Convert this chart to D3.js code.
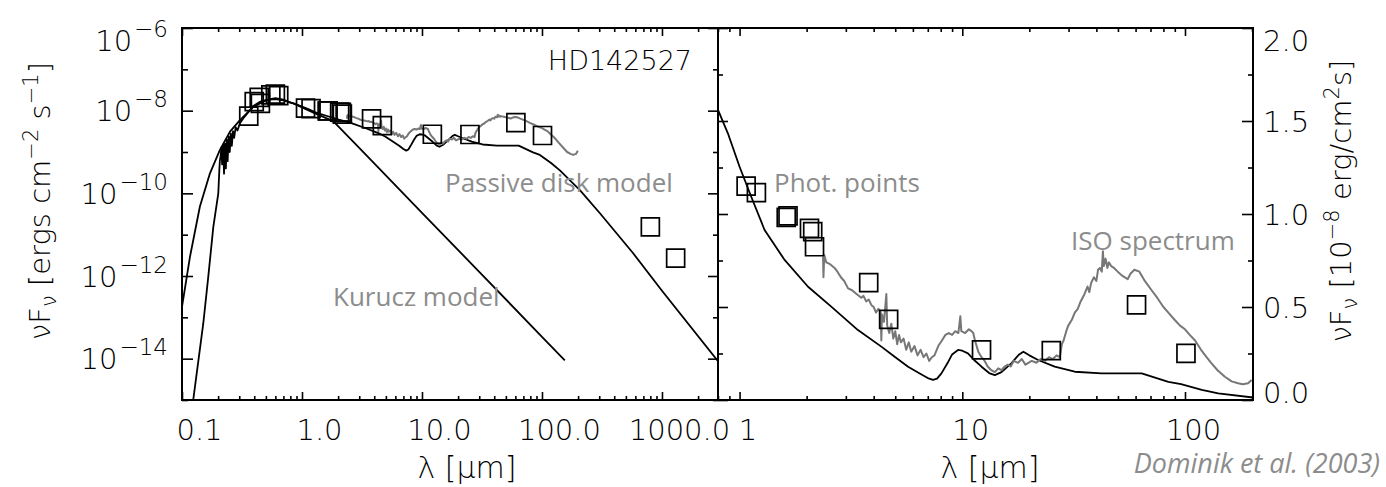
<!DOCTYPE html>
<html><head><meta charset="utf-8">
<script src="https://cdn.jsdelivr.net/npm/d3@7"></script>
<style>body{margin:0;background:#fff}svg{display:block}</style>
</head><body>
<svg id="c" width="1386" height="487"></svg>
<script>
// ---------------- DATA (fluxes in erg cm^-2 s^-1, wavelengths in micron) ----------------
const kuruczLambda = [0.124,0.1505,0.1655,0.1824,0.2007,0.205,0.207,0.210,0.213,0.216,0.220,0.224,0.228,0.232,0.236,0.240,0.245,0.250,0.255,0.260,0.266,0.272,0.280,0.290,0.304,0.33,0.36,0.393,0.45,0.51,0.6,0.7,0.85,1.0,1.3,1.82,2.5,4,10,30,100,155];
const kuruczFlux = [1e-15,7.2e-14,9.5e-13,1.55e-11,1.0e-10,4e-10,6.3e-10,8e-10,1.3e-9,5e-10,1.5e-9,3.0e-10,1.6e-9,4.0e-10,2.0e-9,6e-10,2.4e-9,1.0e-9,2.8e-9,1.4e-9,3.2e-9,2.2e-9,4.0e-9,3.3e-9,5.0e-9,7.0e-9,9.5e-9,1.3e-8,1.66e-8,1.82e-8,1.9e-8,1.78e-8,1.5e-8,1.2e-8,8.5e-9,5.6e-9,2.17e-9,5.3e-10,3.39e-11,1.26e-12,3.39e-14,9.1e-15];

const diskLambda = [0.1,0.1166,0.141,0.171,0.207,0.251,0.304,0.393,0.51,0.6,0.7,0.8,0.886,1.0,1.128,1.295,1.593,2.03,2.58,3.40,4.33,4.97,5.71,6.5,7.0,7.39,7.7,8.06,8.6,9.0,9.57,10.0,10.6,11.3,12.2,13.2,14.0,15.0,16.6,18.0,18.8,20.0,21.9,26,32,42.2,63.9,84.2,96,119,141,207,304,573,1000,2930];
const diskFlux = [1.8e-13,2.95e-12,4.8e-11,3.05e-10,1.12e-9,3.1e-9,5.9e-9,1.24e-8,1.82e-8,2.0e-8,1.85e-8,1.56e-8,1.434e-8,1.254e-8,1.093e-8,0.914e-8,0.753e-8,0.609e-8,0.502e-8,0.376e-8,0.287e-8,0.233e-8,0.179e-8,0.14e-8,0.118e-8,0.108e-8,0.115e-8,0.143e-8,0.2e-8,0.245e-8,0.269e-8,0.265e-8,0.251e-8,0.215e-8,0.179e-8,0.145e-8,0.134e-8,0.15e-8,0.197e-8,0.245e-8,0.26e-8,0.24e-8,0.215e-8,0.179e-8,0.152e-8,0.143e-8,0.143e-8,0.098e-8,0.085e-8,0.054e-8,0.036e-8,1.2e-10,3.3e-11,3.6e-12,4.4e-13,8.7e-15];

const isoLambda = [2.37,2.38,2.40,2.45,2.55,2.67,2.75,2.85,2.95,3.07,3.2,3.35,3.52,3.6,3.7,3.8,3.91,4.0,4.1,4.2,4.3,4.33,4.36,4.45,4.56,4.6,4.7,4.8,4.9,5.0,5.1,5.2,5.3,5.45,5.6,5.75,5.9,6.1,6.3,6.5,6.7,6.9,7.1,7.3,7.5,7.8,8.1,8.4,8.7,9.0,9.3,9.6,9.8,9.9,10.3,10.7,11.0,11.2,11.4,11.8,12.2,12.6,13.0,13.5,14.0,14.5,15.0,15.5,16.0,16.5,17.0,17.8,18.5,19.2,19.8,20.5,21.5,22.5,23.5,24.5,25.5,26.5,27.4,28.0,28.5,29.3,29.9,31.0,32.0,33.0,34.0,35.4,36.5,37.2,37.9,39.0,40.0,40.7,41.5,42.3,42.8,43.2,44.0,44.8,45.5,46.6,48.0,49.9,52.0,55.3,57.0,59.3,62.4,66,70.8,75,80,84.2,90,95,100,105,111,118,125,131,140,151,162,173,182,192,199];
const isoFlux = [0.77e-8,0.66e-8,0.78e-8,0.74e-8,0.73e-8,0.71e-8,0.69e-8,0.66e-8,0.64e-8,0.60e-8,0.59e-8,0.57e-8,0.55e-8,0.56e-8,0.53e-8,0.54e-8,0.51e-8,0.50e-8,0.47e-8,0.49e-8,0.47e-8,0.32e-8,0.46e-8,0.42e-8,0.57e-8,0.40e-8,0.36e-8,0.41e-8,0.33e-8,0.37e-8,0.30e-8,0.35e-8,0.31e-8,0.33e-8,0.27e-8,0.31e-8,0.26e-8,0.29e-8,0.24e-8,0.27e-8,0.23e-8,0.25e-8,0.21e-8,0.23e-8,0.24e-8,0.29e-8,0.32e-8,0.35e-8,0.36e-8,0.35e-8,0.37e-8,0.36e-8,0.45e-8,0.37e-8,0.36e-8,0.38e-8,0.37e-8,0.36e-8,0.32e-8,0.26e-8,0.23e-8,0.21e-8,0.18e-8,0.16e-8,0.15e-8,0.17e-8,0.16e-8,0.18e-8,0.19e-8,0.18e-8,0.21e-8,0.20e-8,0.22e-8,0.19e-8,0.20e-8,0.21e-8,0.20e-8,0.22e-8,0.21e-8,0.23e-8,0.22e-8,0.24e-8,0.23e-8,0.30e-8,0.32e-8,0.37e-8,0.40e-8,0.43e-8,0.47e-8,0.49e-8,0.53e-8,0.57e-8,0.61e-8,0.58e-8,0.63e-8,0.66e-8,0.64e-8,0.70e-8,0.71e-8,0.69e-8,0.80e-8,0.72e-8,0.76e-8,0.71e-8,0.74e-8,0.72e-8,0.71e-8,0.69e-8,0.67e-8,0.65e-8,0.68e-8,0.70e-8,0.69e-8,0.64e-8,0.59e-8,0.55e-8,0.50e-8,0.47e-8,0.43e-8,0.40e-8,0.38e-8,0.35e-8,0.32e-8,0.27e-8,0.23e-8,0.20e-8,0.16e-8,0.125e-8,0.10e-8,0.09e-8,0.085e-8,0.09e-8,0.107e-8];

const photLambda = [0.36,0.40,0.44,0.45,0.55,0.60,0.64,1.07,1.19,1.62,1.65,2.06,2.13,2.17,3.8,4.67,12.2,25.1,60.6,101,800,1300];
const photFlux = [7.4e-9,1.65e-8,2.1e-8,1.5e-8,2.4e-8,2.5e-8,2.3e-8,1.15e-8,1.115e-8,0.982e-8,0.99e-8,0.923e-8,0.905e-8,0.824e-8,0.631e-8,0.434e-8,0.269e-8,0.265e-8,0.511e-8,0.251e-8,1.55e-11,2.7e-12];

const leftXTicks = [0.1,1,10,100,1000];
const leftXTickLabels = ["0.1","1.0","10.0","100.0","1000.0"];
const leftYTicks = [1e-6,1e-8,1e-10,1e-12,1e-14];
const leftYTickExps = ["\u22126","\u22128","\u221210","\u221212","\u221214"];
const rightXTicks = [1,10,100];
const rightXTickLabels = ["1","10","100"];
const rightYTicks = [0,0.5e-8,1e-8,1.5e-8,2e-8];
const rightYTickLabels = ["0.0","0.5","1.0","1.5","2.0"];
const rightYMinor = [0.25e-8,0.75e-8,1.25e-8,1.75e-8];

// ---------------- LAYOUT ----------------
const svg = d3.select("#c");
const L = {x0:182,x1:718,y0:28,y1:400};
const R = {x0:718,x1:1253,y0:28,y1:400};
const xL = d3.scaleLog().domain([0.1,2930]).range([L.x0,L.x1]);
const yL = d3.scaleLog().domain([1e-15,1e-6]).range([L.y1,L.y0]);
const xR = d3.scaleLog().domain([0.8,202]).range([R.x0,R.x1]);
const yR = d3.scaleLinear().domain([0,2e-8]).range([R.y1,R.y0]);
const FONT = "DejaVu Sans";
const WEIGHT = 300;
const INK = "#000";
const zip = (a,b)=>a.map((v,i)=>[v,b[i]]);

const defs = svg.append("defs");
defs.append("clipPath").attr("id","clipL").append("rect").attr("x",L.x0).attr("y",L.y0).attr("width",L.x1-L.x0).attr("height",L.y1-L.y0);
defs.append("clipPath").attr("id","clipR").append("rect").attr("x",R.x0).attr("y",R.y0).attr("width",R.x1-R.x0).attr("height",R.y1-R.y0);

function drawPanel(P, xs, ys, clip, showKurucz) {
  const g = svg.append("g").attr("clip-path",`url(#${clip})`);
  const line = d3.line().x(d=>xs(d[0])).y(d=>ys(d[1]));
  if (showKurucz) g.append("path").datum(zip(kuruczLambda,kuruczFlux)).attr("d",line)
      .attr("fill","none").attr("stroke","#000").attr("stroke-width",1.8).attr("stroke-linejoin","round");
  g.append("path").datum(zip(diskLambda,diskFlux)).attr("d",line)
      .attr("fill","none").attr("stroke","#000").attr("stroke-width",1.8).attr("stroke-linejoin","round");
  g.append("path").datum(zip(isoLambda,isoFlux)).attr("d",line)
      .attr("fill","none").attr("stroke","#777").attr("stroke-width",2).attr("stroke-linejoin","round");
  const sym = d3.symbol().type(d3.symbolSquare).size(18*18);
  g.selectAll("path.pt").data(zip(photLambda,photFlux)).join("path").attr("class","pt")
      .attr("transform",d=>`translate(${xs(d[0])},${ys(d[1])})`).attr("d",sym)
      .attr("fill","none").attr("stroke","#000").attr("stroke-width",1.7);
  svg.append("rect").attr("x",P.x0).attr("y",P.y0).attr("width",P.x1-P.x0).attr("height",P.y1-P.y0)
      .attr("fill","none").attr("stroke","#000").attr("stroke-width",2);
}
drawPanel(L,xL,yL,"clipL",true);
drawPanel(R,xR,yR,"clipR",false);

function axis(axisFn, scale, values, size, translate, fmt) {
  const g = svg.append("g").attr("transform",translate);
  g.call(axisFn(scale).tickValues(values).tickSizeInner(size).tickSizeOuter(0).tickFormat(fmt||(()=>"")));
  g.attr("font-family",FONT).attr("font-size",29).attr("font-weight",WEIGHT);
  g.select(".domain").remove();
  g.selectAll(".tick line").attr("stroke","#000").attr("stroke-width",1.6);
  g.selectAll(".tick text").attr("fill",INK);
  return g;
}
const clampBase = y => Math.min(Math.max(y+10,50),402);

// ---- left panel axes ----
const lxMinor = xL.ticks().filter(v=>!leftXTicks.some(t=>Math.abs(t-v)/t<1e-6));
[[d3.axisBottom,`translate(0,${L.y1})`],[d3.axisTop,`translate(0,${L.y0})`]].forEach(([fn,tr],k)=>{
  axis(fn,xL,lxMinor,-4,tr);
  const g = axis(fn,xL,leftXTicks,-8,tr,k===0?((d,i)=>leftXTickLabels[i]):null);
  if(k===0) g.selectAll(".tick text").attr("y",40).attr("dy",null).attr("dx",17);
});
const lyAll = d3.range(-15,-5).map(e=>Math.pow(10,e));
const lyMinor = lyAll.filter(v=>!leftYTicks.some(t=>Math.abs(t-v)/t<1e-6));
axis(d3.axisLeft,yL,lyMinor,-6,`translate(${L.x0},0)`);
axis(d3.axisRight,yL,lyMinor,-5,`translate(${L.x1},0)`);
axis(d3.axisRight,yL,leftYTicks,-10,`translate(${L.x1},0)`);
const gly = axis(d3.axisLeft,yL,leftYTicks,-11,`translate(${L.x0},0)`,(d,i)=>"10");
gly.selectAll(".tick text").each(function(d,i){
  const t = d3.select(this);
  t.text(null).attr("x",-14).attr("dy",null).attr("y",clampBase(yL(d))-yL(d)).attr("text-anchor","end");
  t.append("tspan").text("10");
  t.append("tspan").attr("font-size",23).attr("dy",-14).attr("dx",2).text(leftYTickExps[i]);
});

// ---- right panel axes ----
const rxMinor = xR.ticks().filter(v=>!rightXTicks.some(t=>Math.abs(t-v)/t<1e-6));
[[d3.axisBottom,`translate(0,${R.y1})`],[d3.axisTop,`translate(0,${R.y0})`]].forEach(([fn,tr],k)=>{
  axis(fn,xR,rxMinor,-4,tr);
  const g = axis(fn,xR,rightXTicks,-8,tr,k===0?((d,i)=>rightXTickLabels[i]):null);
  if(k===0) g.selectAll(".tick text").attr("y",40).attr("dy",null).attr("dx",8);
});
axis(d3.axisLeft,yR,rightYMinor,-5,`translate(${R.x0},0)`);
axis(d3.axisLeft,yR,rightYTicks,-10,`translate(${R.x0},0)`);
axis(d3.axisRight,yR,rightYMinor,-5,`translate(${R.x1},0)`);
const gry = axis(d3.axisRight,yR,rightYTicks,-11,`translate(${R.x1},0)`,(d,i)=>rightYTickLabels[i]);
gry.selectAll(".tick text").attr("x",10).attr("dy",null).attr("y",d=>clampBase(yR(d))-yR(d)).attr("text-anchor","start");

// ---- axis titles ----
function xTitle(cx){
  svg.append("text").attr("x",cx).attr("y",478).attr("text-anchor","middle")
    .attr("font-family",FONT).attr("font-size",30).attr("font-weight",WEIGHT).attr("fill",INK)
    .text("\u03bb [\u03bcm]");
}
xTitle(467); xTitle(990);

const ytl = svg.append("text").attr("transform","translate(50,201) rotate(-90)").attr("text-anchor","middle")
  .attr("font-family",FONT).attr("font-size",29).attr("font-weight",WEIGHT).attr("fill",INK);
ytl.append("tspan").text("\u03bdF");
ytl.append("tspan").attr("font-size",21).attr("dy",6).text("\u03bd");
ytl.append("tspan").attr("dy",-6).text(" [ergs cm");
ytl.append("tspan").attr("font-size",21).attr("dy",-12).text("\u22122");
ytl.append("tspan").attr("dy",12).text(" s");
ytl.append("tspan").attr("font-size",21).attr("dy",-12).text("\u22121");
ytl.append("tspan").attr("dy",12).text("]");

const ytr = svg.append("text").attr("transform","translate(1351,201) rotate(-90)").attr("text-anchor","middle")
  .attr("font-family",FONT).attr("font-size",29).attr("font-weight",WEIGHT).attr("fill",INK);
ytr.append("tspan").text("\u03bdF");
ytr.append("tspan").attr("font-size",21).attr("dy",6).text("\u03bd");
ytr.append("tspan").attr("dy",-6).text(" [10");
ytr.append("tspan").attr("font-size",21).attr("dy",-12).text("\u22128");
ytr.append("tspan").attr("dy",12).text(" erg/cm");
ytr.append("tspan").attr("font-size",21).attr("dy",-12).text("2");
ytr.append("tspan").attr("dy",12).text("s]");

// ---- in-plot labels ----
svg.append("text").attr("x",692).attr("y",70).attr("text-anchor","end")
  .attr("font-family",FONT).attr("font-size",27).attr("font-weight",WEIGHT).attr("fill",INK).text("HD142527");

const ann = [["Passive disk model",445,192],["Kurucz model",333,306],["Phot. points",774,192],["ISO spectrum",1071,250]];
ann.forEach(a=>svg.append("text").attr("x",a[1]).attr("y",a[2]).attr("font-family","Open Sans")
  .attr("font-size",26).attr("fill","#8c8c8c").text(a[0]));
svg.append("text").attr("x",1380).attr("y",473).attr("text-anchor","end").attr("font-family","Open Sans")
  .attr("font-style","italic").attr("font-size",27).attr("fill","#8c8c8c").text("Dominik et al. (2003)");
</script>
</body></html>
